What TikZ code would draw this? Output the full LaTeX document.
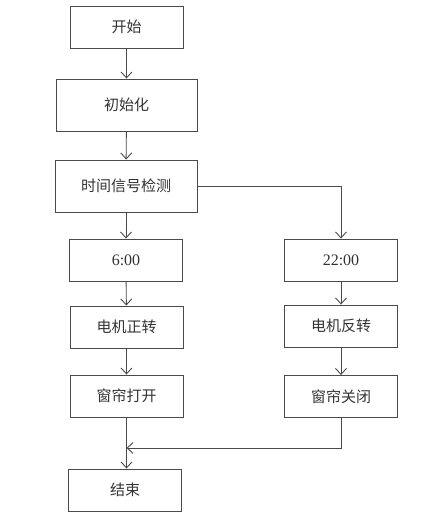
\documentclass[tikz,border=0pt]{standalone}
\usepackage{fontspec}
\setmainfont{Liberation Serif}
\newfontfamily\cjk{Noto Sans CJK SC}
\usetikzlibrary{arrows.meta}
\definecolor{ln}{HTML}{4A4A4A}
\definecolor{tx}{HTML}{333333}
\begin{document}
\begin{tikzpicture}[x=1pt,y=-1pt,
  box/.style={draw=ln,line width=0.9pt,minimum width=113pt,minimum height=42pt,inner sep=0pt,
    text=tx,font=\fontsize{15}{17}\selectfont\cjk},
  num/.style={box,font=\fontsize{16}{18}\selectfont},
  arr/.style={draw=ln,line width=0.9pt,-{Straight Barb[length=6pt,width=11pt]}}]
\useasboundingbox (0,0) rectangle (428,516);
\node[box] (start) at (126.5,27) {开始};
\node[box,minimum width=141pt,minimum height=52pt] (init) at (126.5,105) {初始化};
\node[box,minimum width=142pt,minimum height=52pt] (detect) at (126,186) {时间信号检测};
\node[num] (t6) at (126,260) {6:00};
\node[num] (t22) at (341,260) {22:00};
\node[box] (fwd) at (126.5,327) {电机正转};
\node[box] (rev) at (341,326) {电机反转};
\node[box] (open) at (126.5,396) {窗帘打开};
\node[box] (close) at (341,396.5) {窗帘关闭};
\node[box] (end) at (125,490) {结束};
\coordinate (j) at (126.5,448);
\draw[arr] (start) -- (init);
\draw[arr] (init) -- (detect);
\draw[arr] (detect) -- (t6);
\draw[arr] (detect.east) -| (t22.north);
\draw[arr] (t6) -- (fwd);
\draw[arr] (t22) -- (rev);
\draw[arr] (fwd) -- (open);
\draw[arr] (rev) -- (close);
\draw[arr] (close.south) |- (j);
\draw[arr] (open.south) -- (end.north -| open.south);
\end{tikzpicture}
\end{document}
